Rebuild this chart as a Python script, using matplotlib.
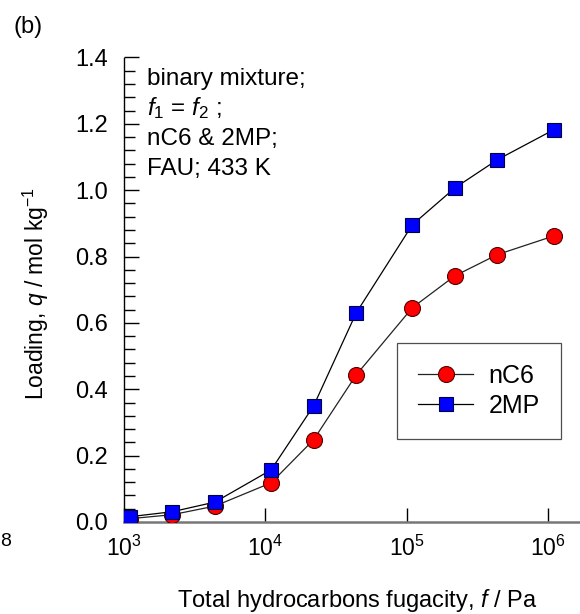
import matplotlib
matplotlib.use("Agg")
import matplotlib.pyplot as plt
from matplotlib.ticker import LogLocator, LogFormatterSciNotation, MultipleLocator, NullLocator

plt.rcParams["font.family"] = ["Liberation Sans", "DejaVu Sans"]
plt.rcParams["mathtext.fontset"] = "custom"
plt.rcParams["mathtext.rm"] = "Liberation Sans"
plt.rcParams["mathtext.it"] = "Liberation Sans:italic"
plt.rcParams["mathtext.bf"] = "Liberation Sans:bold"

# Total fugacity (Pa) and component loadings (mol/kg)
fugacity = [1.1e3, 2.2e3, 4.4e3, 1.1e4, 2.2e4, 4.4e4, 1.1e5, 2.2e5, 4.4e5, 1.1e6]
q_nC6 = [0.010, 0.022, 0.048, 0.118, 0.248, 0.443, 0.646, 0.742, 0.806, 0.862]
q_2MP = [0.016, 0.031, 0.060, 0.157, 0.350, 0.630, 0.896, 1.007, 1.092, 1.182]
series_names = ["nC6", "2MP"]

fig = plt.figure(figsize=(5.8, 6.14), dpi=100)
ax = fig.add_axes([124 / 580, 1 - 522 / 614, 1 - 124 / 580, (522 - 57.5) / 614])

ax.plot(fugacity, q_nC6, "-", color="#222222", lw=0.9, marker="o", ms=11.5,
        mfc="#ff0000", mec="#550000", mew=0.8, label=series_names[0], zorder=3)
ax.plot(fugacity, q_2MP, "-", color="black", lw=0.9, marker="s", ms=10.5,
        mfc="#0000ff", mec="#000044", mew=0.8, label=series_names[1], zorder=4)

ax.set_xscale("log")
ax.set_xlim(1e3, 10 ** 6.228)
ax.set_ylim(0, 1.4)

ax.xaxis.set_major_locator(LogLocator(base=10, numticks=10))
ax.xaxis.set_major_formatter(LogFormatterSciNotation())
ax.xaxis.set_minor_locator(NullLocator())
ax.yaxis.set_major_locator(MultipleLocator(0.2))
ax.yaxis.set_minor_locator(MultipleLocator(0.04))
ax.yaxis.set_major_formatter(lambda v, p: f"{v:.1f}")

for s in ("top", "right"):
    ax.spines[s].set_visible(False)
ax.spines["left"].set_linewidth(1.0)
ax.spines["bottom"].set_color("#777777")
ax.spines["bottom"].set_linewidth(1.8)

ax.tick_params(axis="y", which="major", direction="in", length=11, width=1.0,
               labelsize=17, pad=11.5)
ax.tick_params(axis="y", which="minor", direction="in", length=8, width=1.0)
ax.tick_params(axis="x", which="major", direction="in", length=10, width=1.0,
               labelsize=16.5, pad=10)

fig.text(357 / 580, 1 - 600 / 614, "Total hydrocarbons fugacity, $f$ / Pa",
         ha="center", va="center", fontsize=17)
fig.text(36 / 580, 1 - 294 / 614, "Loading, $q$ / mol kg$^{-1}$",
         ha="center", va="center", rotation=90, fontsize=16.5)
fig.text(28 / 580, 1 - 27 / 614, "(b)", ha="center", va="center", fontsize=17)
fig.text(0.0, 1 - 541 / 614, "8", ha="left", va="center", fontsize=14)

info_lines = ["binary mixture;", "$f_{1}$ = $f_{2}$ ;", "nC6 & 2MP;", "FAU; 433 K"]
info_baseline = [85, 115, 145, 175]
for txt, yy in zip(info_lines, info_baseline):
    fig.text(147 / 580, 1 - yy / 614, txt, ha="left", va="baseline", fontsize=17.5)

leg = ax.legend(loc="upper left", bbox_to_anchor=(397 / 580, 1 - 342.5 / 614),
                bbox_transform=fig.transFigure, frameon=True, fancybox=False,
                fontsize=18, handlelength=2.2, borderpad=0.85, labelspacing=0.25,
                handletextpad=0.6, borderaxespad=0)
leg.get_frame().set_edgecolor("#222222")
leg.get_frame().set_linewidth(0.9)

fig.savefig("out.png", dpi=100)
